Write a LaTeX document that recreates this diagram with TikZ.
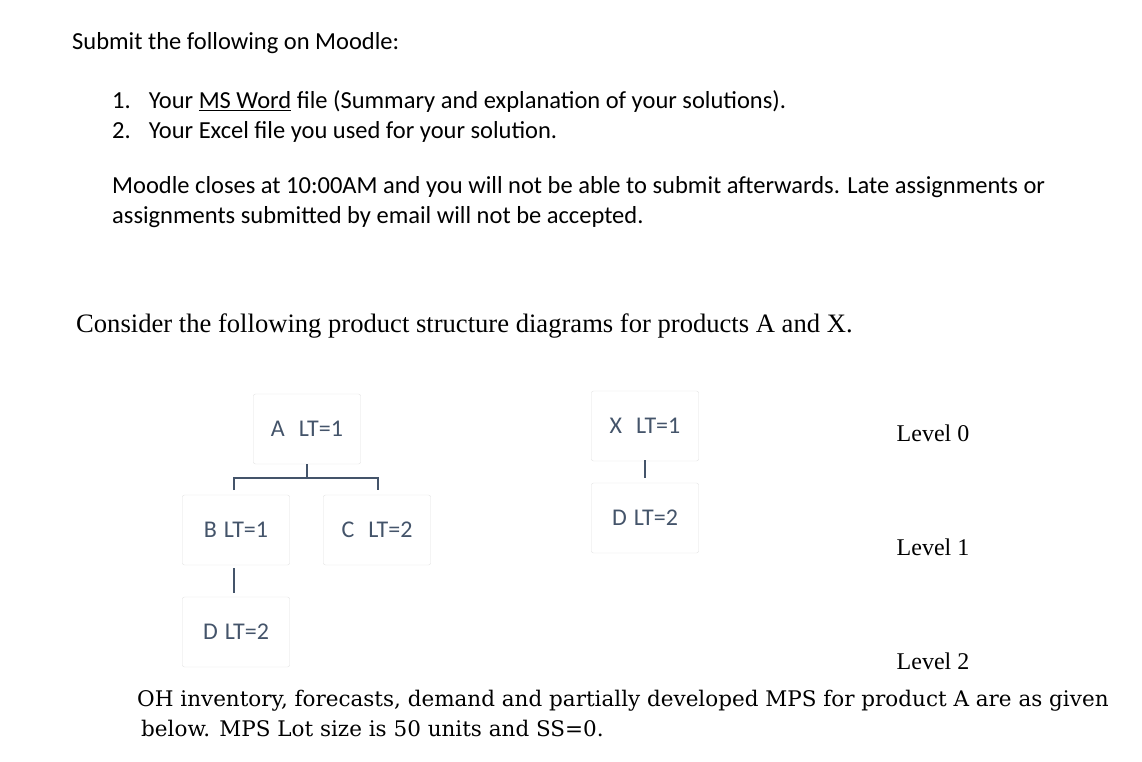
\documentclass[tikz,border=0pt]{standalone}
\usepackage{fontspec}
\setmainfont{Liberation Serif}
\newfontfamily\carlitof{Carlito}
\newfontfamily\cambf{DejaVu Serif}
\definecolor{tx}{HTML}{44546A}
\begin{document}
\begin{tikzpicture}[x=1pt,y=-1pt,
  bx/.style={draw=black!12,rounded corners=2pt,minimum width=107pt,minimum height=70pt,inner sep=0pt,font=\carlitof\fontsize{24}{26}\selectfont,text=tx},
  ln/.style={draw=tx,line width=2pt},
  cal/.style={font=\carlitof\fontsize{24.5}{30}\selectfont,anchor=west,inner sep=0pt}]
\useasboundingbox (0,0) rectangle (1142,762);
\node[cal] (t1) at (72,43) {Submit the following on Moodle:};
\node[cal] (t2) at (112,102) {1.\hspace{18pt}Your \underline{MS Word} file (Summary and explanation of your solutions).};
\node[cal] (t3) at (112,132) {2.\hspace{18pt}Your Excel file you used for your solution.};
\node[cal,align=left,anchor=north west] (t4) at (112,176) {Moodle closes at 10:00AM and you will not be able to submit afterwards. Late assignments or\\assignments submitted by email will not be accepted.};
\node[anchor=west,inner sep=0pt,font=\fontsize{26.6}{30}\selectfont] (t5) at (76,326) {Consider the following product structure diagrams for products A and X.};
\node[bx] (A) at (307,429) {A\hspace{14pt}LT=1};
\node[bx] (B) at (236,530) {B\hspace{7pt}LT=1};
\node[bx] (C) at (377,530) {C\hspace{14pt}LT=2};
\node[bx] (D) at (236,632) {D\hspace{7pt}LT=2};
\node[bx] (X) at (645,426) {X\hspace{14pt}LT=1};
\node[bx] (D2) at (645,518) {D\hspace{7pt}LT=2};
\coordinate (j) at (307,478);
\draw[ln] (A.south) -- (j);
\draw[ln] (234,490) -- (234,478) -- (378,478) -- (378,490);
\draw[ln] (234,568) -- (234,593);
\draw[ln] (645,460) -- (645,478);
\node[font=\fontsize{24}{26}\selectfont] (L0) at (933,433) {Level 0};
\node[font=\fontsize{24}{26}\selectfont] (L1) at (933,547) {Level 1};
\node[font=\fontsize{24}{26}\selectfont] (L2) at (933,661) {Level 2};
\node[anchor=north west,inner sep=0pt,align=left,font=\cambf\fontsize{21.5}{30}\selectfont] (t6) at (137,690) {OH inventory, forecasts, demand and partially developed MPS for product A are as given\\\hspace{4pt}below. MPS Lot size is 50 units and SS=0.};
\end{tikzpicture}
\end{document}
